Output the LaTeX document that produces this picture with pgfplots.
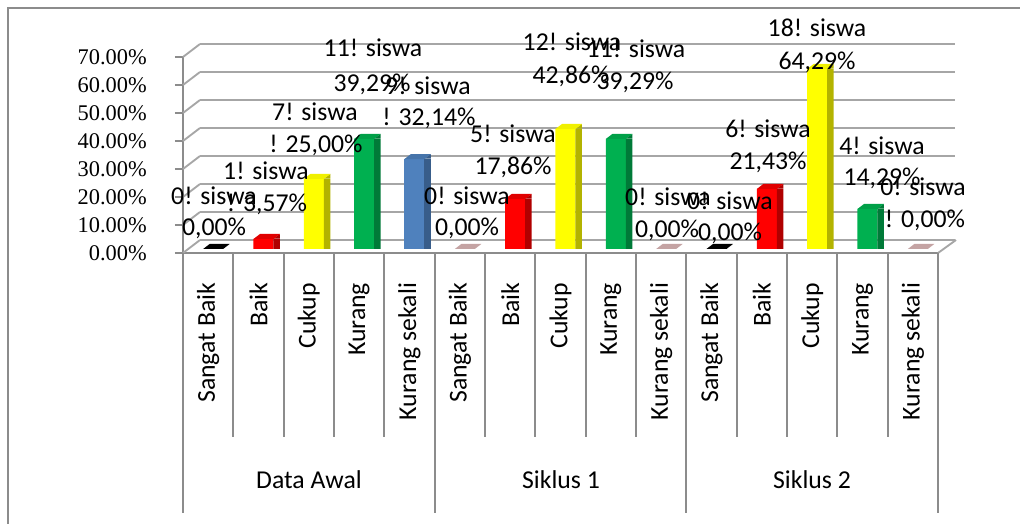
\documentclass[border=0pt]{standalone}
\usepackage{pgfplots}
\pgfplotsset{compat=1.18}
\usepackage{fontspec}
\setmainfont{Carlito}
\newfontfamily\timesf{Liberation Serif}
\definecolor{gridgray}{HTML}{A6A6A6}
\definecolor{framegray}{HTML}{8C8C8C}
\definecolor{barred}{HTML}{FF0000}
\definecolor{barredS}{HTML}{B00000}
\definecolor{barredT}{HTML}{E00000}
\definecolor{baryel}{HTML}{FFFF00}
\definecolor{baryelS}{HTML}{B3B300}
\definecolor{baryelT}{HTML}{F0F000}
\definecolor{bargrn}{HTML}{00B050}
\definecolor{bargrnS}{HTML}{007A38}
\definecolor{bargrnT}{HTML}{00A048}
\definecolor{barblu}{HTML}{4F81BD}
\definecolor{barbluS}{HTML}{385D8A}
\definecolor{barbluT}{HTML}{4674AA}
\definecolor{barpink}{HTML}{C4A3A3}
\newcommand\lbl{\fontsize{19.3}{23}\selectfont}

% 3D top face of a bar (relative to the bar's data point)
\pgfdeclareplotmark{topface}{%
  \pgfpathmoveto{\pgfpoint{-10.125pt}{0pt}}%
  \pgfpathlineto{\pgfpoint{4.875pt}{0pt}}%
  \pgfpathlineto{\pgfpoint{9.75pt}{3.75pt}}%
  \pgfpathlineto{\pgfpoint{-5.25pt}{3.75pt}}%
  \pgfpathclose\pgfusepathqfill}
% top triangle of the side face
\pgfdeclareplotmark{sidetri}{%
  \pgfpathmoveto{\pgfpoint{4.8pt}{0.3pt}}%
  \pgfpathlineto{\pgfpoint{9.75pt}{0.3pt}}%
  \pgfpathlineto{\pgfpoint{9.75pt}{3.75pt}}%
  \pgfpathclose\pgfusepathqfill}

% data: percentages of 28 students
\pgfplotstableread{
x  y
1  3.57
6  17.86
11 21.43
}\redtab
\pgfplotstableread{
x  y
2  25.00
7  42.86
12 64.29
}\yeltab
\pgfplotstableread{
x  y
3  39.29
8  39.29
13 14.29
}\grntab
\pgfplotstableread{
x  y
4  32.14
}\blutab
\pgfplotstableread{
x  y
0  0
10 0
}\blktab
\pgfplotstableread{
x  y
5  0
9  0
14 0
}\pinktab

\pgfplotsset{
  front/.style={ybar, bar width=15pt, bar shift=-2.625pt, fill=#1, draw=none},
  side/.style={ybar, bar width=4.875pt, bar shift=7.3125pt, fill=#1, draw=none},
  top/.style={only marks, mark=topface, mark options={fill=#1, draw=none}},
  tri/.style={only marks, mark=sidetri, mark options={fill=#1, draw=none}},
}

\begin{document}
\begin{tikzpicture}
\useasboundingbox (0,0) rectangle (765pt,393pt);

% back wall with gridlines
\begin{axis}[at={(150pt,213pt)}, anchor=south west, scale only axis,
  width=566.25pt, height=147pt, xmin=-0.5, xmax=14.5, ymin=0, ymax=70,
  axis line style={draw=none}, xtick=\empty, ytick={0,10,...,70}, yticklabels={},
  major tick length=0pt, ymajorgrids, grid style={gridgray, line width=1.4pt}]
\end{axis}

% front axis with tick labels
\begin{axis}[at={(137.25pt,203.25pt)}, anchor=south west, scale only axis,
  width=566.25pt, height=147pt, xmin=-0.5, xmax=14.5, ymin=0, ymax=70,
  axis lines*=left, axis line style={framegray, line width=1.3pt},
  tick align=outside, major tick length=6pt, tick style={framegray, line width=1.3pt},
  xtick={0,...,14}, major x tick style={draw=none},
  xticklabels={Sangat Baik,Baik,Cukup,Kurang,Kurang sekali,Sangat Baik,Baik,Cukup,Kurang,Kurang sekali,Sangat Baik,Baik,Cukup,Kurang,Kurang sekali},
  xticklabel style={rotate=90, anchor=east, font=\lbl},
  xticklabel shift=13pt,
  ytick={0,10,...,70},
  yticklabels={0.00\%,10.00\%,20.00\%,30.00\%,40.00\%,50.00\%,60.00\%,70.00\%},
  yticklabel style={font=\timesf\fontsize{16.8}{19}\selectfont, inner sep=0pt},
  yticklabel shift=21pt]
\end{axis}

% bar plane
\begin{axis}[at={(143.6pt,206.25pt)}, anchor=south west, scale only axis,
  width=566.25pt, height=147pt, xmin=-0.5, xmax=14.5, ymin=0, ymax=70,
  hide axis, clip=false]
\addplot[front=barred]  table[x=x,y=y]{\redtab};
\addplot[side=barredS]  table[x=x,y=y]{\redtab};
\addplot[tri=barredS]   table[x=x,y=y]{\redtab};
\addplot[top=barredT]   table[x=x,y=y]{\redtab};
\addplot[front=baryel]  table[x=x,y=y]{\yeltab};
\addplot[side=baryelS]  table[x=x,y=y]{\yeltab};
\addplot[tri=baryelS]   table[x=x,y=y]{\yeltab};
\addplot[top=baryelT]   table[x=x,y=y]{\yeltab};
\addplot[front=bargrn]  table[x=x,y=y]{\grntab};
\addplot[side=bargrnS]  table[x=x,y=y]{\grntab};
\addplot[tri=bargrnS]   table[x=x,y=y]{\grntab};
\addplot[top=bargrnT]   table[x=x,y=y]{\grntab};
\addplot[front=barblu]  table[x=x,y=y]{\blutab};
\addplot[side=barbluS]  table[x=x,y=y]{\blutab};
\addplot[tri=barbluS]   table[x=x,y=y]{\blutab};
\addplot[top=barbluT]   table[x=x,y=y]{\blutab};
\addplot[top=black]     table[x=x,y=y]{\blktab};
\addplot[top=barpink]   table[x=x,y=y]{\pinktab};
\end{axis}

% decorations in pixel units
\begin{scope}[x=0.75pt, y=-0.75pt, yshift=393pt]
\draw[framegray, line width=1.2pt] (8,540) -- (8,8) -- (1030,8);
\foreach \k in {0,...,7} {
  \draw[gridgray, line width=1.4pt] (183,{253-28*\k}) -- (200,{240-28*\k});
}
\draw[gridgray, line width=1.4pt] (938,253) -- (956,240);
\foreach \k in {1,2,3,4,6,7,8,9,11,12,13,14} {
  \draw[framegray, line width=1.3pt] ({183+50.333*\k},253) -- ({183+50.333*\k},437);
}
\foreach \k in {0,5,10,15} {
  \draw[framegray, line width=1.3pt] ({183+50.333*\k},253) -- ({183+50.333*\k},513);
}
\node[font=\lbl] at (309,480) {Data Awal};
\node[font=\lbl] at (561,480) {Siklus 1};
\node[font=\lbl] at (812,480) {Siklus 2};

\tikzset{bl/.style={anchor=base, font=\lbl, inner sep=0pt}}
% Data Awal
\node[bl] at (214,205) {0! siswa};   \node[bl] at (214,236) {0,00\%};
\node[bl] at (266,180) {1! siswa};   \node[bl] at (267,212) {! 3,57\%};
\node[bl] at (315,121) {7! siswa};   \node[bl] at (316,153) {! 25,00\%};
\node[bl] at (373,57) {11! siswa};   \node[bl] at (372,92) {39,29\%};
\node[bl] at (428,95) {9! siswa};    \node[bl] at (429,126) {! 32,14\%};
% Siklus 1
\node[bl] at (467,205) {0! siswa};   \node[bl] at (467,236) {0,00\%};
\node[bl] at (513,143) {5! siswa};   \node[bl] at (513,175) {17,86\%};
\node[bl] at (572,51) {12! siswa};   \node[bl] at (571,84) {42,86\%};
\node[bl] at (636,58) {11! siswa};   \node[bl] at (635,90) {39,29\%};
\node[bl] at (668,206) {0! siswa};   \node[bl] at (667,238) {0,00\%};
% Siklus 2
\node[bl] at (730,210) {0! siswa};   \node[bl] at (730,241) {0,00\%};
\node[bl] at (768,138) {6! siswa};   \node[bl] at (768,170) {21,43\%};
\node[bl] at (817,37) {18! siswa};   \node[bl] at (817,70) {64,29\%};
\node[bl] at (882,155) {4! siswa};   \node[bl] at (882,186) {14,29\%};
\node[bl] at (923,196) {0! siswa};   \node[bl] at (925,228) {! 0,00\%};
\end{scope}
\end{tikzpicture}
\end{document}
